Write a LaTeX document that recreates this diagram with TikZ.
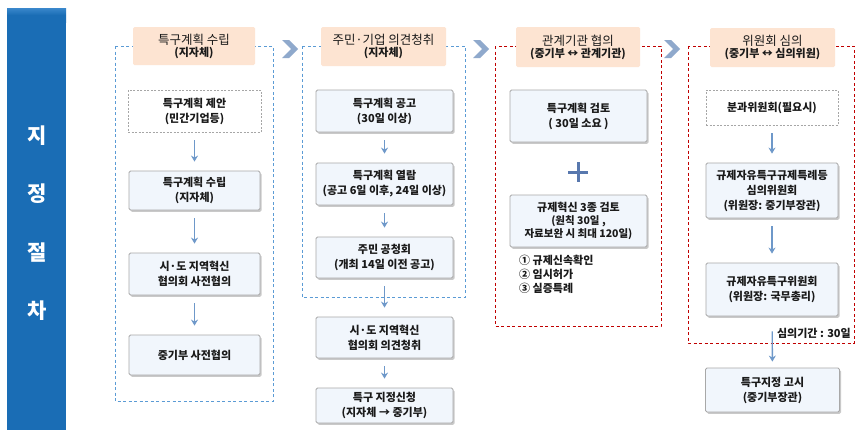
\documentclass[tikz,border=0pt]{standalone}
\usepackage{fontspec}
\setmainfont{Noto Sans CJK KR}
\newfontfamily\kr{Noto Sans CJK KR}
\usetikzlibrary{arrows.meta,shadows}
\definecolor{barblue}{HTML}{1A6DB5}
\definecolor{bartop}{HTML}{3A88CC}
\definecolor{dblue}{HTML}{5B9BD5}
\definecolor{dred}{HTML}{C00000}
\definecolor{peach}{HTML}{FDE4D2}
\definecolor{boxfill}{HTML}{F1F6FC}
\definecolor{boxline}{HTML}{A8A8A8}
\definecolor{arrblue}{HTML}{6E98C9}
\definecolor{chev}{HTML}{8FA9CC}
\definecolor{plusc}{HTML}{5878AE}
\definecolor{txt}{HTML}{1A1A1A}
\tikzset{
  stepbox/.style={draw=boxline, line width=0.8pt, fill=boxfill, rounded corners=1.5pt,
    drop shadow={shadow xshift=1.5pt, shadow yshift=-1.8pt, fill=black!35, opacity=0.6},
    align=center, text=txt, font=\kr\bfseries\fontsize{11}{15}\selectfont, inner sep=1pt},
  dbox/.style={draw=gray!70, dash pattern=on 2pt off 1.5pt, line width=0.7pt, fill=white,
    align=center, text=txt, font=\kr\bfseries\fontsize{11}{15}\selectfont, inner sep=1pt},
  headbox/.style={fill=peach, rounded corners=1.5pt, align=center, text=txt, inner sep=1pt},
  bluezone/.style={draw=dblue, dash pattern=on 3pt off 2.5pt, line width=0.9pt},
  redzone/.style={draw=dred, dash pattern=on 3pt off 2.5pt, line width=0.9pt},
  arr/.style={draw=arrblue, line width=1.4pt, -{Stealth[length=6pt,width=7pt]},
    shorten <=8pt, shorten >=9pt},
  chevron/.style={fill=chev},
  bigletter/.style={text=white, font=\kr\bfseries\fontsize{21}{21}\selectfont}
}
\newcommand{\hdr}[2]{{\fontsize{12.5}{16}\selectfont #1}\\{\bfseries\fontsize{11}{15}\selectfont #2}}
\newcommand{\chevat}[2]{\fill[chevron] (#1-8,#2-9) -- (#1-1,#2-9) -- (#1+8,#2) -- (#1-1,#2+9) -- (#1-8,#2+9) -- (#1+1,#2) -- cycle;}
\begin{document}
\begin{tikzpicture}[x=1pt,y=-1pt]
\useasboundingbox (0,0) rectangle (868,434);
\fill[white] (0,0) rectangle (868,434);
% left bar
\shade[top color=bartop, bottom color=barblue, middle color=barblue] (7,8) rectangle (66,22);
\fill[barblue] (7,22) rectangle (66,430);
\node[bigletter] (l1) at (37,136) {지};
\node[bigletter] (l2) at (37,194) {정};
\node[bigletter] (l3) at (37,253) {절};
\node[bigletter] (l4) at (37,311) {차};
% chevrons
\chevat{290}{49}
\chevat{481}{49}
\chevat{672}{49}
% zones
\draw[bluezone] (115,46) rectangle (273,401);
\draw[bluezone] (302,46) rectangle (465,297);
\draw[redzone] (495,46) rectangle (661,326);
\draw[redzone] (688,46) rectangle (854,343);
% headers
\node[headbox, minimum width=122pt, minimum height=38pt] (h1) at (194,46) {\hdr{특구계획 수립}{(지자체)}};
\node[headbox, minimum width=125pt, minimum height=39pt] (h2) at (383.5,46.5) {\hdr{주민·기업 의견청취}{(지자체)}};
\node[headbox, minimum width=124pt, minimum height=40pt] (h3) at (578,47) {\hdr{관계기관 협의}{(중기부 ↔ 관계기관)}};
\node[headbox, minimum width=125pt, minimum height=39pt] (h4) at (772.5,47.5) {\hdr{위원회 심의}{(중기부 ↔ 심의위원)}};
% column 1
\node[dbox, minimum width=133pt, minimum height=42pt] (b11) at (194.5,111) {특구계획 제안\\(민간기업등)};
\node[stepbox, minimum width=131pt, minimum height=39pt] (b12) at (194.5,190.5) {특구계획 수립\\(지자체)};
\node[stepbox, minimum width=131pt, minimum height=42pt] (b13) at (194.5,274) {시·도 지역혁신\\협의회 사전협의};
\node[stepbox, minimum width=131pt, minimum height=40pt] (b14) at (194.5,355) {중기부 사전협의};
\draw[arr] (b11) -- (b12);
\draw[arr] (b12) -- (b13);
\draw[arr] (b13) -- (b14);
% column 2
\node[stepbox, minimum width=137pt, minimum height=42pt] (b21) at (384.5,111) {특구계획 공고\\(30일 이상)};
\node[stepbox, minimum width=137pt, minimum height=42pt] (b22) at (384.5,184) {특구계획 열람\\(공고 6일 이후, 24일 이상)};
\node[stepbox, minimum width=137pt, minimum height=41pt] (b23) at (384.5,257.5) {주민 공청회\\(개최 14일 이전 공고)};
\node[stepbox, minimum width=137pt, minimum height=41pt] (b24) at (384.5,337.5) {시·도 지역혁신\\협의회 의견청취};
\node[stepbox, minimum width=137pt, minimum height=35pt] (b25) at (384.5,405.5) {특구 지정신청\\(지자체 → 중기부)};
\draw[arr] (b21) -- (b22);
\draw[arr] (b22) -- (b23);
\draw[arr] (b23) -- (b24);
\draw[arr] (b24) -- (b25);
% column 3
\node[stepbox, minimum width=137pt, minimum height=52pt] (b31) at (578.5,116) {특구계획 검토\\( 30일 소요 )};
\draw[plusc, line width=3pt] (568,172) -- (588,172) (578,162) -- (578,182);
\node[stepbox, minimum width=137pt, minimum height=52pt, font=\kr\bfseries\fontsize{11}{13}\selectfont] (b32) at (578.5,221) {규제혁신 3종 검토\\{\fontsize{10.5}{13}\selectfont (원칙 30일 ,}\\{\fontsize{10.5}{13}\selectfont 자료보완 시 최대 120일)}};
\node[anchor=north west, align=left, text=txt, font=\kr\bfseries\fontsize{11}{14}\selectfont, inner sep=0pt] (lst) at (519,255) {① 규제신속확인\\② 임시허가\\③ 실증특례};
% column 4
\node[dbox, minimum width=132pt, minimum height=35pt] (b41) at (772,107.5) {분과위원회(필요시)};
\node[stepbox, minimum width=132pt, minimum height=55pt] (b42) at (772,190.5) {규제자유특구규제특례등\\심의위원회\\(위원장: 중기부장관)};
\node[stepbox, minimum width=132pt, minimum height=53pt] (b43) at (772,289.5) {규제자유특구위원회\\(위원장: 국무총리)};
\node[stepbox, minimum width=134pt, minimum height=44pt] (b44) at (772.5,390) {특구지정 고시\\(중기부장관)};
\draw[arr] (b41) -- (b42);
\draw[arr] (b42) -- (b43);
\draw[arr, shorten <=15pt, shorten >=6pt] (b43) -- (b44);
\node[anchor=east, text=txt, font=\kr\bfseries\fontsize{11}{15}\selectfont, inner sep=0pt] (per) at (851,333) {심의기간 : 30일};
\end{tikzpicture}
\end{document}
